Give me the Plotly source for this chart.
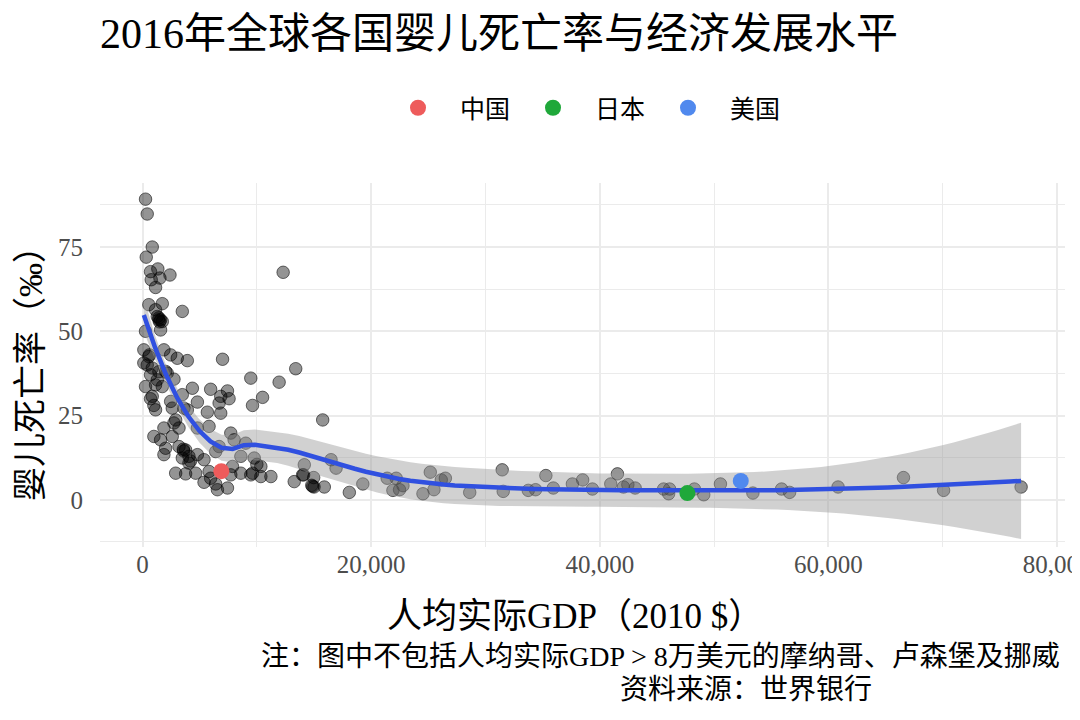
import numpy as np
import plotly.graph_objects as go

# ---- data: GDP per capita (constant 2010 US$) and infant mortality (per 1000) ----
gdp = [263, 410, 850, 325, 700, 1340, 1520, 2400, 760, 1140, 12300,
       550, 1730, 1290, 1580, 1430, 1430, 1500, 3480, 1140, 260, 1580, 1730,
       115, 550, 600, 1870, 2460, 3040, 3920, 7000, 115, 850, 410, 2020, 700,
       1430, 2160, 1290, 2750, 260, 1140, 1730, 4360, 5960, 7430, 9470, 11950,
       13400, 850, 700, 3480, 6840, 1140, 990, 2600, 3620, 4800, 5670, 6840,
       6700, 7570, 9620, 10500, 2460, 3920, 2900, 15760,
       1870, 2750, 3190, 4800, 5820, 990, 1580, 2600, 2020, 1870, 3190, 3770,
       3570, 3600, 4060, 4800, 5380, 3480, 4060, 4200, 7720, 8010, 9030, 6700,
       8600, 9770, 6400,
       2900, 3770, 4650, 5820, 7870, 8600, 9470, 7720, 5380, 6400, 6550, 7430,
       5960, 10350, 10350, 11230, 9620, 10000, 13270, 14000, 14880, 14800,
       15000, 14150, 14090, 14970, 15900, 16490, 16930, 18090, 19270, 21400,
       22190, 21900, 22480, 22780, 24530, 25170, 25490, 26130, 26490, 28620,
       31460, 31550, 33740, 34380, 35280, 35930, 37600, 38500, 39350, 40960,
       41540, 42070, 42450, 43090, 45580, 46020, 46100, 48270, 49090, 50550,
       53390, 55900, 56600, 60840, 66560, 70070, 76850]
imr = [89.2, 84.8, 75.0, 72.0, 67.7, 68.5, 65.8, 66.7, 65.3, 63.0, 67.5,
       57.9, 58.2, 54.4, 53.4, 53.4, 54.0, 52.8, 55.9, 56.4, 50.0, 50.4, 52.9,
       44.5, 42.5, 43.0, 44.5, 43.0, 42.0, 41.3, 41.7, 40.6, 39.1, 40.0, 38.1, 37.1,
       38.0, 37.6, 35.6, 35.8, 33.6, 34.1, 33.6, 33.1, 32.8, 32.3, 36.1, 34.9,
       38.9, 30.7, 30.0, 31.2, 30.7, 26.7, 28.0, 27.2, 27.2, 29.0, 26.0, 25.7,
       28.7, 30.0, 28.0, 30.4, 29.2, 26.7, 23.7, 23.7,
       21.3, 22.8, 21.3, 21.3, 21.8, 18.8, 17.8, 18.8, 15.3, 13.4, 15.8, 14.8,
       15.0, 14.5, 12.9, 13.4, 11.9, 12.4, 10.9, 11.5, 19.8, 17.8, 16.8, 15.8,
       12.9, 12.4, 14.3,
       7.9, 7.7, 7.9, 8.4, 9.9, 7.9, 7.4, 7.4, 5.2, 4.7, 3.0, 3.5,
       6.4, 9.9, 6.9, 6.9, 7.9, 10.5, 5.4, 7.4, 4.0, 4.3,
       3.8, 10.4, 7.4, 6.6, 3.8, 11.9, 9.4, 2.2, 4.7, 6.4,
       6.4, 2.8, 3.0, 4.2, 1.8, 8.2, 3.0, 5.9, 6.4, 2.2,
       8.9, 2.5, 2.8, 3.0, 7.2, 3.5, 4.7, 5.9, 3.2, 4.7,
       7.7, 3.8, 4.5, 3.5, 3.2, 1.8, 3.2, 3.2, 1.5, 4.7,
       2.0, 3.2, 2.2, 3.8, 6.6, 2.8, 3.8]

highlight_names = ["中国", "日本", "美国"]
highlight_gdp = [6894, 47660, 52330]
highlight_imr = [8.5, 2.0, 5.6]
highlight_colors = ["#EE5B5B", "#1FA83A", "#5089EE"]

title_text = "2016年全球各国婴儿死亡率与经济发展水平"
x_title = "人均实际GDP（2010 $）"
y_title = "婴儿死亡率（‰）"
note_text = "注：图中不包括人均实际GDP > 8万美元的摩纳哥、卢森堡及挪威"
source_text = "资料来源：世界银行"

# ---- loess smoother (span 0.75, degree 2, tricube), as in ggplot2 geom_smooth ----
x_all = np.array(gdp + highlight_gdp, dtype=float)
y_all = np.array(imr + highlight_imr, dtype=float)
scale = 10000.0
xs = x_all / scale


def loess_rows(x, x0s, span=0.75):
    n = len(x)
    q = int(np.floor(n * span))
    rows = []
    for x0 in x0s:
        d = np.abs(x - x0)
        h = np.sort(d)[q - 1] * (1 + 1e-12)
        w = np.clip(1 - (d / h) ** 3, 0, 1) ** 3
        X = np.column_stack([np.ones(n), x - x0, (x - x0) ** 2])
        XtW = X.T * w
        A = XtW @ X
        l = np.linalg.solve(A, XtW)[0]
        rows.append(l)
    return np.array(rows)


L = loess_rows(xs, xs)
resid = y_all - L @ y_all
IL = np.eye(len(xs)) - L
M = IL.T @ IL
delta1 = np.trace(M)
delta2 = np.trace(M @ M)
sigma = np.sqrt(np.sum(resid ** 2) / delta1)
dfree = delta1 ** 2 / delta2
z = 1.959963985
tq = z + (z ** 3 + z) / (4 * dfree) + (5 * z ** 5 + 16 * z ** 3 + 3 * z) / (96 * dfree ** 2)

grid = np.linspace(xs.min(), xs.max(), 80)
Lg = loess_rows(xs, grid)
fit = Lg @ y_all
se = sigma * np.sqrt(np.sum(Lg ** 2, axis=1))
lo = fit - tq * se
hi = fit + tq * se
gx = grid * scale

FONT = "Liberation Serif, Noto Sans CJK SC, serif"

# page body adds an 8px offset; layout positions below compensate for it
OFF = 8
PL, PR, PT, PB = 100, 1065, 183, 547   # target plot-area edges in the screenshot
PW, PH = PR - PL, PB - PT

fig = go.Figure()

fig.add_trace(go.Scatter(
    x=gdp, y=imr, mode="markers", showlegend=False, hoverinfo="skip",
    marker=dict(size=12.5, color="rgba(0,0,0,0.42)",
                line=dict(color="rgba(0,0,0,0.55)", width=1))))

fig.add_trace(go.Scatter(x=gx, y=lo, mode="lines", line=dict(width=0),
                         showlegend=False, hoverinfo="skip"))
fig.add_trace(go.Scatter(x=gx, y=hi, mode="lines", line=dict(width=0),
                         fill="tonexty", fillcolor="rgba(153,153,153,0.45)",
                         showlegend=False, hoverinfo="skip"))
fig.add_trace(go.Scatter(x=gx, y=fit, mode="lines",
                         line=dict(color="#3050E0", width=4.5),
                         showlegend=False, hoverinfo="skip"))

for name, hx, hy, col in zip(highlight_names, highlight_gdp, highlight_imr, highlight_colors):
    fig.add_trace(go.Scatter(x=[hx], y=[hy], mode="markers", name=name,
                             marker=dict(size=16, color=col)))

grid_col = "#EBEBEB"
fig.update_layout(
    width=1080, height=720,
    margin=dict(l=PL - OFF, r=1080 - PR + OFF, t=PT - OFF, b=720 - PB + OFF,
                autoexpand=False),
    paper_bgcolor="white", plot_bgcolor="white",
    font=dict(family=FONT, color="black"),
    title=dict(text=title_text, x=(100 - OFF) / 1080, xanchor="left", xref="container",
               y=1 - (33 - OFF) / 720, yanchor="middle", yref="container",
               font=dict(size=42, family=FONT, color="black")),
    legend=dict(orientation="h", x=0.5 - 4 / PW, xanchor="center",
                y=1 + (PT - 108) / PH, yanchor="middle",
                font=dict(size=25, family=FONT), itemwidth=74, entrywidth=46,
                entrywidthmode="pixels", traceorder="normal",
                bgcolor="rgba(0,0,0,0)"),
    xaxis=dict(range=[-3720, 80690], dtick=20000, tick0=0, tickformat=",d",
               automargin=False, ticklabeloverflow="allow",
               showgrid=True, gridcolor=grid_col, gridwidth=1.6, zeroline=False,
               showline=False, ticks="", tickfont=dict(size=25, color="#4D4D4D"),
               minor=dict(dtick=10000, showgrid=True, gridcolor=grid_col, gridwidth=0.9)),
    yaxis=dict(range=[-14, 94], dtick=25, tick0=0, automargin=False,
               showgrid=True, gridcolor=grid_col, gridwidth=1.6, zeroline=False,
               showline=False, ticks="", ticklabelstandoff=16,
               tickfont=dict(size=25, color="#4D4D4D"),
               minor=dict(dtick=12.5, showgrid=True, gridcolor=grid_col, gridwidth=0.9)),
    annotations=[
        dict(text=x_title, xref="paper", yref="paper", x=(575 - PL) / PW,
             y=-(616 - PB) / PH,
             xanchor="center", yanchor="middle", showarrow=False,
             font=dict(size=35, family=FONT, color="black")),
        dict(text=y_title, xref="paper", yref="paper", x=-(PL - 30) / PW, y=0.5,
             xanchor="center", yanchor="middle", showarrow=False, textangle=-90,
             font=dict(size=34, family=FONT, color="black")),
        dict(text=note_text, xref="paper", yref="paper", x=(1062 - PL) / PW,
             y=-(656 - PB) / PH,
             xanchor="right", yanchor="middle", showarrow=False,
             font=dict(size=28, family=FONT, color="black")),
        dict(text=source_text, xref="paper", yref="paper", x=(618 - PL) / PW,
             y=-(689 - PB) / PH, xanchor="left", yanchor="middle", showarrow=False,
             font=dict(size=28, family=FONT, color="black")),
    ],
)

fig.write_html("out.html")
